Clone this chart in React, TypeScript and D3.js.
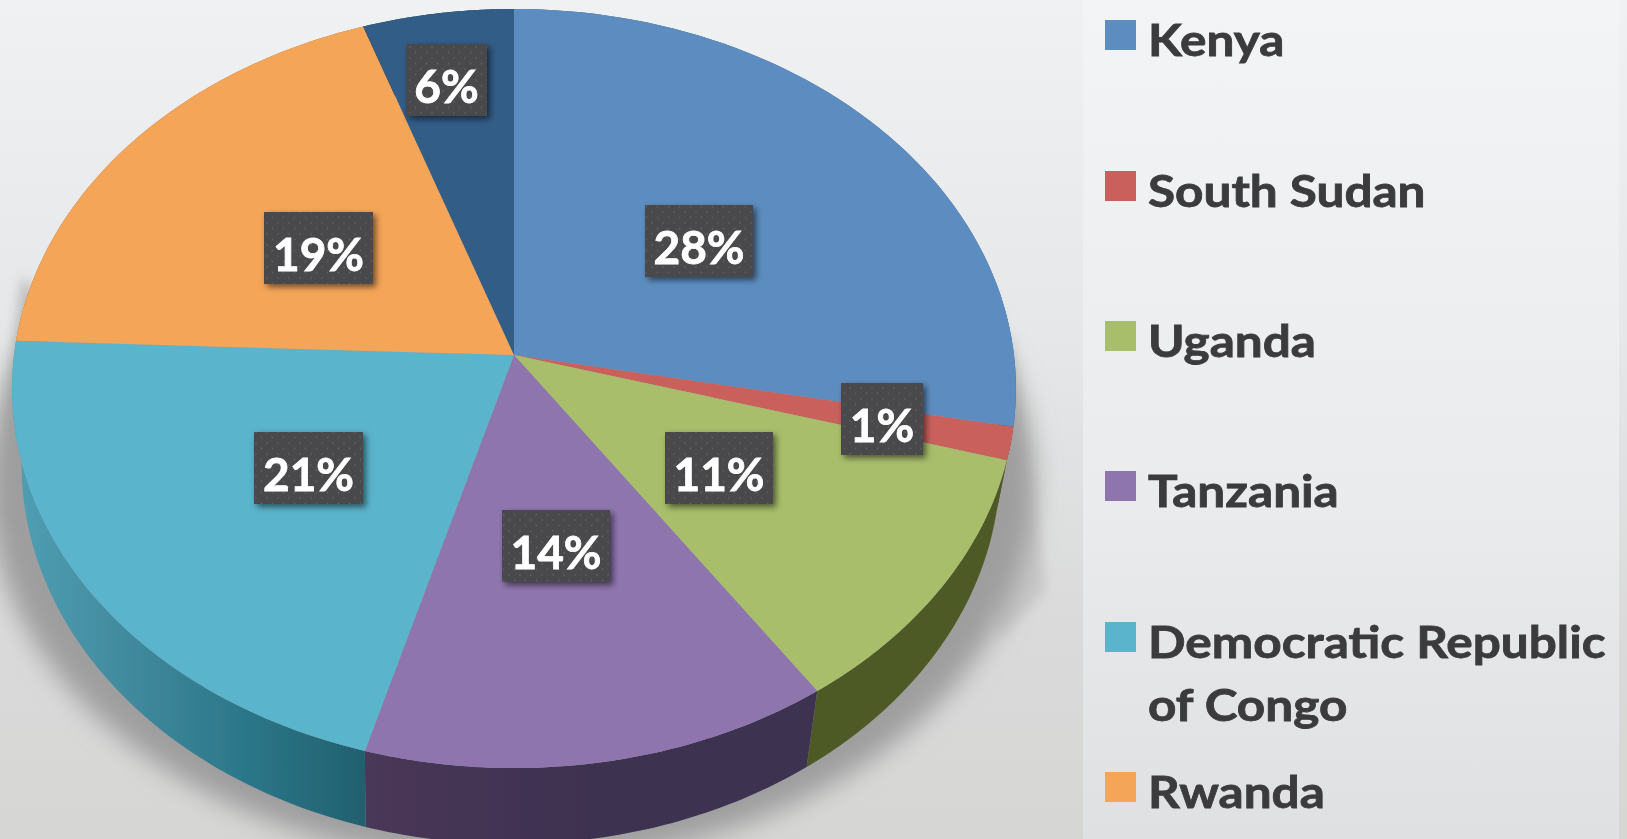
import React from "react";
import * as d3 from "d3";

const categories = ["Kenya", "South Sudan", "Uganda", "Tanzania", "Democratic Republic of Congo", "Rwanda", "Other"];
const shares = [28, 1.4, 11.1, 13.9, 21.2, 19.1, 5.3];
const shareLabels = ["28%", "1%", "11%", "14%", "21%", "19%", "6%"];
const legendLines = [["Kenya"], ["South Sudan"], ["Uganda"], ["Tanzania"], ["Democratic Republic", "of Congo"], ["Rwanda"]];
const topColors = ["#5d8dc0", "#c9605c", "#a8be6b", "#8e75ae", "#5ab4cc", "#f4a558", "#325d87"];
const wallColors = ["#3d5f85", "#8a3d3a", "#4e5a28", "url(#wallTz)", "url(#wallDrc)", "#a86f35", "#223f5c"];

const W = 1627, H = 839;
const APEX = { x: 514, y: 355 };
const K = 0.0883, AX = 500, BY = 376.6;
const DEPTH = 76;

// Perspective view of the pie's rim
const rimTop = (t: number): [number, number] => {
  const w = 1 + K * Math.cos(t);
  return [APEX.x + (AX * Math.sin(t)) / w, APEX.y - (BY * Math.cos(t)) / w];
};
const rimBottom = (t: number): [number, number] => {
  const [x, y] = rimTop(t);
  return [511 + 0.975 * (x - APEX.x), y + DEPTH];
};

const line = d3.line();
const arcs = d3.pie<number>().sort(null)(shares);
const samples = (a: number, b: number) => d3.range(0, 61).map((i) => a + ((b - a) * i) / 60);
const topPath = (a: number, b: number) =>
  line([[APEX.x, APEX.y], ...samples(a, b).map(rimTop)]) + "Z";
const wallPath = (a: number, b: number) =>
  line([...samples(a, b).map(rimTop), ...samples(a, b).reverse().map(rimBottom)]) + "Z";
const shadowPath = line(
  samples(0, 2 * Math.PI).map(rimBottom).map(([x, y]) => [514 + 1.07 * (x - 514), y + 20] as [number, number])
) + "Z";

const labelBoxes = [
  { x: 645, y: 205 }, { x: 841, y: 383 }, { x: 665, y: 432 }, { x: 502, y: 510 },
  { x: 254, y: 432 }, { x: 264, y: 212 }, { x: 406, y: 44 },
];
const boxW = [108, 82, 108, 108, 109, 109, 81];
const legendY = [20, 171, 321, 471, 622, 772];

export default function App() {
  return (
    <svg width={W} height={H} viewBox={`0 0 ${W} ${H}`}
      style={{ position: "absolute", left: 0, top: 0, display: "block" }}
      fontFamily="Lato, 'Open Sans', sans-serif">
      <defs>
        <linearGradient id="bg" x1="0" y1="0" x2="0" y2="1">
          <stop offset="0" stopColor="#eff1f3" />
          <stop offset="0.4" stopColor="#e5e7e8" />
          <stop offset="0.75" stopColor="#dadada" />
          <stop offset="1" stopColor="#d6d6d5" />
        </linearGradient>
        <linearGradient id="panel" x1="0" y1="0" x2="0" y2="1">
          <stop offset="0" stopColor="#f2f4f5" />
          <stop offset="0.6" stopColor="#e9ebec" />
          <stop offset="1" stopColor="#dfe0e1" />
        </linearGradient>
        <linearGradient id="wallDrc" gradientUnits="userSpaceOnUse" x1="24" y1="0" x2="370" y2="0">
          <stop offset="0" stopColor="#4f9db2" />
          <stop offset="0.3" stopColor="#418a9e" />
          <stop offset="0.65" stopColor="#2b7688" />
          <stop offset="1" stopColor="#215f6e" />
        </linearGradient>
        <linearGradient id="wallTz" gradientUnits="userSpaceOnUse" x1="367" y1="0" x2="810" y2="0">
          <stop offset="0" stopColor="#4a3758" />
          <stop offset="0.5" stopColor="#3e3150" />
          <stop offset="1" stopColor="#3c3050" />
        </linearGradient>
        <filter id="blurBig" x="-10%" y="-10%" width="120%" height="120%"><feGaussianBlur stdDeviation="13" /></filter>
        <filter id="blurMid" x="-60%" y="-20%" width="220%" height="140%"><feGaussianBlur stdDeviation="6" /></filter>
        <filter id="soft" x="-2%" y="-2%" width="104%" height="104%"><feGaussianBlur stdDeviation="0.6" /></filter>
        <filter id="boxShadow" x="-20%" y="-20%" width="150%" height="150%">
          <feDropShadow dx="3" dy="3" stdDeviation="3" floodColor="#000" floodOpacity="0.55" />
        </filter>
        <pattern id="dots" width="11" height="11" patternUnits="userSpaceOnUse">
          <rect width="11" height="11" fill="#4a4a4c" />
          <circle cx="3" cy="3" r="0.9" fill="#5d5d5f" />
          <circle cx="8.5" cy="8.5" r="0.9" fill="#5d5d5f" />
        </pattern>
      </defs>

      <g filter="url(#soft)">
        <rect width={W} height={H} fill="url(#bg)" />
        <path d="M1010,335 L1046,590 L1000,640 L980,500 Z" fill="#c8c8c8" filter="url(#blurMid)" />
        <path d="M22,275 L8,400 L6,520 L60,560 L40,300 Z" fill="#bcbcbc" filter="url(#blurMid)" />
        <path d={shadowPath} fill="#9e9e9e" filter="url(#blurBig)" />
        <rect x={1083} y={0} width={536} height={H} fill="url(#panel)" />

        {arcs.map((a, i) => (
          <path key={i} d={wallPath(a.startAngle, a.endAngle)} fill={wallColors[i]} />
        ))}
        {arcs.map((a, i) => (
          <path key={i} d={topPath(a.startAngle, a.endAngle)} fill={topColors[i]} />
        ))}

        {shareLabels.map((s, i) => (
          <g key={s}>
            <rect x={labelBoxes[i].x} y={labelBoxes[i].y} width={boxW[i]} height={72}
              fill="url(#dots)" filter="url(#boxShadow)" />
            <text x={labelBoxes[i].x + boxW[i] / 2} y={labelBoxes[i].y + 59} textAnchor="middle"
              fontSize={46} fontWeight={700} fill="#ffffff" stroke="#ffffff" strokeWidth={0.8}>{s}</text>
          </g>
        ))}

        {legendLines.map((lines, i) => (
          <g key={i}>
            <rect x={1105} y={legendY[i]} width={31} height={30} fill={topColors[i]} />
            {lines.map((t, j) => (
              <text key={t} transform={`translate(1148,${legendY[i] + 36 + j * 63}) scale(1.125,1)`}
                fontSize={44} fontWeight={700} fill="#3b3b3d" stroke="#3b3b3d" strokeWidth={0.8}>{t}</text>
            ))}
          </g>
        ))}
      </g>
    </svg>
  );
}
